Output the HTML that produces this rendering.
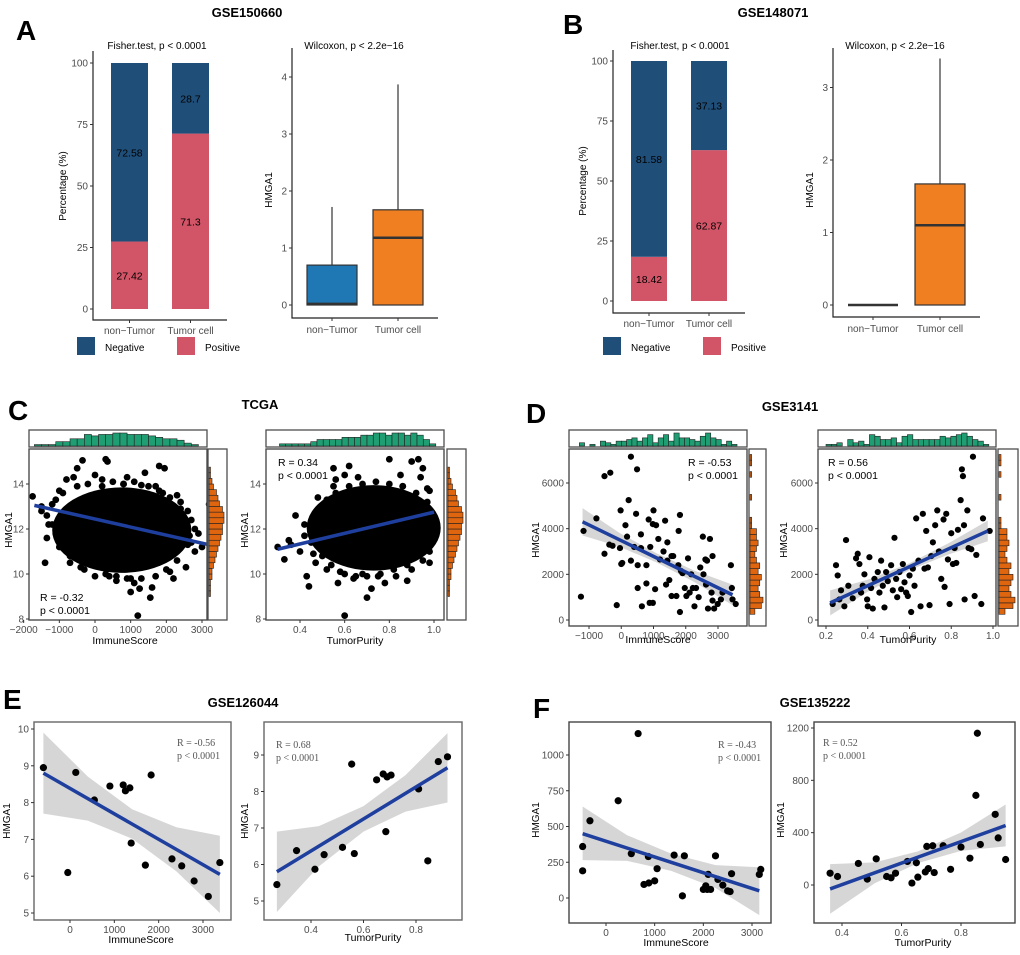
<!DOCTYPE html>
<html><head><meta charset="utf-8"><title>HMGA1 figure</title>
<style>
html,body{margin:0;padding:0;background:#fff;}
svg{display:block;font-family:"Liberation Sans",Arial,sans-serif;}
</style></head>
<body>
<svg id="fig" width="1020" height="955" viewBox="0 0 1020 955" xmlns="http://www.w3.org/2000/svg"></svg>
<script>
// ===== Panel A / B data =====
const barCats = ["non\u2212Tumor","Tumor cell"];
const aNeg = [72.58, 28.7];
const aPos = [27.42, 71.3];
const bNeg = [81.58, 37.13];
const bPos = [18.42, 62.87];
const pctTicks = [0,25,50,75,100];
// box stats [min,q1,median,q3,max]
const aBox = [[0,0,0.02,0.7,1.72],[0,0,1.18,1.67,3.87]];
const bBox = [[0,0,0,0,0],[0,0,1.1,1.67,3.4]];
const aBoxTicks = [0,1,2,3,4];
const bBoxTicks = [0,1,2,3];

// ===== Panel C (TCGA) =====
const cImmX = [-1750,-1400,-1350,-1350,-500,-350,300,350,1200,1550,1800,1950,3200,1250,1100,2550,2500,2650,2800,-800,-600,0,900,1400,-200,-700,2200,1600,400,-1100,-1500,3000,2900,-1200,-900,-300,600,1000,2100,2300,2400,-1000,200,1700,2600,-600,800,1300,1900,2700,
  -1500,-1300,-1200,-1000,-900,-700,-500,-400,-200,0,200,300,500,600,800,900,1100,1300,1500,1700,1800,2000,2100,2300,2400,2600,2700,-1100,2800,1000];
const cImmY = [13.45,10.5,11.6,12.6,14.7,15.05,15.1,15,8.15,8.95,14.8,14.7,13.1,9.35,9.6,10.3,12.3,11.7,11,14.2,14.3,14.4,14.3,14.5,10.5,10.5,9.8,9.4,9.9,13.3,13,11.2,11.8,12.2,11.3,10.2,9.9,9.8,10.1,13.5,13.2,13.7,13.9,13.9,12.8,11,14,13.95,13.6,11.4,
  12.8,12.2,13.1,11.2,13.6,10.8,13.9,10.3,14,9.9,14.2,10.0,14.1,9.7,14,9.8,14.1,9.8,13.9,9.9,13.7,10.2,13.4,10.6,12.9,11.3,12.4,11.8,12,9.2];
const cImmCore = [750, 11.95, 1950, 1.9]; // cx, cy, rx, ry (dense cloud)
const cImmLineX = [-1700, 3200];
const cImmLineY = [13.05, 11.3];
const cPurX = [0.3,0.33,0.35,0.38,0.42,0.45,0.43,0.44,0.48,0.5,0.55,0.6,0.62,0.7,0.72,0.8,0.78,0.9,0.93,0.95,0.94,0.66,0.6,0.4,0.47,0.52,0.98,0.98,0.85,0.36,0.55,0.58,0.64,0.68,0.75,0.82,0.88,0.5,0.46,0.56,0.86,0.97,
  0.45,0.48,0.5,0.52,0.54,0.56,0.6,0.62,0.65,0.68,0.7,0.74,0.76,0.8,0.83,0.86,0.9,0.92,0.95,0.97,0.99,0.99,0.98,0.42,0.57,0.88];
const cPurY = [11.2,10.65,11.5,12.6,11.7,12.2,9.9,9.45,13.4,13,14.7,8.15,14.8,8.95,9.35,15.1,9.6,15,15.1,14.7,14.3,14.3,14.4,11,10.5,10.2,10.5,13.7,14.4,11.3,13.9,10.1,9.8,10,9.9,10.2,10.4,12.9,10.9,14.2,13.9,13.8,
  11.4,12.6,10.8,13.3,10.4,13.6,10.0,13.9,9.9,14.0,9.9,14.1,10.0,14.0,9.9,13.9,10.2,13.6,10.6,13.2,11.5,12.3,11.0,12.2,9.6,9.7];
const cPurCore = [0.73, 12.05, 0.3, 1.9];
const cPurLineX = [0.3, 1.0];
const cPurLineY = [11.1, 12.75];
const cTopImm = [0,1,1,1,3,3,5,5,8,7,8,8,9,9,8,8,8,7,6,5,5,4,2,1,0,0];
const cTopImmStart = -1900, cTopImmStep = 200;
const cTopPur = [0,1,1,1,1,1,2,3,3,3,3,4,4,4,5,5,6,6,5,6,6,5,6,5,3,1];
const cTopPurStart = 0.28, cTopPurStep = 0.028;
const cSide = [0,0,0,0,1,1,1,2,2,3,4,5,6,7,8,9,9,10,10,9,7,6,5,3,2,1,1,0,0];
const cSideStart = 8, cSideStep = 0.25;

// ===== Panel D (GSE3141) =====
const dImmX = [-1250,-1170,-770,-520,-340,-520,-370,-270,-140,-40,0,30,-20,130,180,230,300,300,400,460,490,510,510,610,610,640,780,780,850,880,900,980,980,1000,1050,1080,1150,1200,1310,1360,1390,1430,1430,1490,1560,1560,1610,1710,1770,1780,1820,1820,1850,1900,1970,2020,2070,2120,2170,2220,2270,2320,2400,2450,2530,2550,2610,2630,2660,2690,2750,2800,2830,2830,2880,2990,3090,3140,3400,3430,3450,3550];
const dImmY = [1020,3900,4450,6300,6450,2900,3300,3250,650,3150,2450,2500,4800,4150,3650,5250,7150,2600,3200,4650,6600,2400,1400,3750,3150,600,2400,1600,4400,750,3200,750,4200,4800,1350,4150,3550,2650,3000,4350,1550,2600,3400,1750,2800,1050,2800,1050,2400,3900,4600,350,2150,2050,1400,1050,2700,1200,2000,1400,600,1400,1000,2300,3650,2000,2650,1550,2600,500,3550,1200,2800,850,500,700,900,1200,2400,1400,900,700];
const dImmLineX = [-1200, 3450];
const dImmLineY = [4300, 1100];
const dImmBandX = [-1200,-50,1100,2250,3450];
const dImmBandLo = [3700,3209,2518,1676,650];
const dImmBandHi = [4900,3809,2918,2176,1550];
const dPurX = [0.232,0.248,0.256,0.264,0.272,0.288,0.296,0.307,0.328,0.344,0.352,0.36,0.368,0.376,0.384,0.397,0.4,0.408,0.416,0.424,0.432,0.448,0.456,0.464,0.472,0.48,0.488,0.496,0.512,0.52,0.528,0.536,0.541,0.552,0.56,0.568,0.576,0.584,0.592,0.6,0.608,0.616,0.624,0.632,0.643,0.653,0.664,0.672,0.68,0.688,0.696,0.704,0.712,0.723,0.733,0.741,0.752,0.763,0.768,0.776,0.784,0.792,0.8,0.808,0.816,0.824,0.832,0.845,0.851,0.856,0.861,0.864,0.877,0.883,0.896,0.904,0.912,0.92,0.944,0.952,0.984];
const dPurY = [700,2400,1950,900,1300,600,3500,1500,950,2700,2900,2450,1200,1500,2000,900,600,2750,1400,500,1800,2100,1200,2600,1500,550,2100,1700,2400,1300,3600,1800,1000,2100,1350,2450,1650,1200,1050,1950,350,2250,1500,4450,2600,600,4650,2250,3900,2300,650,2800,3400,4150,4800,3000,1800,4400,1450,4650,2650,700,3800,2450,3150,2500,3950,5250,6600,6300,4150,900,4800,3150,3100,7150,1050,2850,700,4450,3900];
const dPurLineX = [0.22, 0.975];
const dPurLineY = [750, 3900];
const dPurBandX = [0.22,0.41,0.6,0.79,0.975];
const dPurBandLo = [200,1293,2186,2878,3450];
const dPurBandHi = [1300,1793,2486,3378,4350];
const dTopImm = [2,0,1,0,3,2,1,3,3,4,5,3,5,7,2,5,7,3,8,5,5,4,3,6,8,5,4,1,3,1];
const dTopImmStart = -1300, dTopImmStep = 163;
const dTopPur = [1,1,2,0,4,2,3,1,7,6,4,4,5,2,6,7,4,4,4,4,4,6,5,6,7,8,6,4,3,1];
const dTopPurStart = 0.2, dTopPurStep = 0.026;
const dSide = [0,3,7,8,6,5,6,7,5,6,4,3,4,5,4,4,1,1,0,0,0,1,0,0,0,1,0,1,1];
const dSideStart = 0, dSideStep = 250;

// ===== Panel E (GSE126044) =====
const eImmX = [-600,-50,130,550,900,1200,1250,1350,1380,1700,1830,2300,2520,2800,3120,3380];
const eImmY = [8.95,6.1,8.82,8.07,8.45,8.48,8.32,8.4,6.9,6.3,8.75,6.47,6.28,5.87,5.45,6.37];
const eImmLineX = [-600, 3380];
const eImmLineY = [8.8, 6.05];
const eImmBandX = [-600,400,1400,2400,3380];
const eImmBandLo = [7.7,7.51,7.02,6.13,5.0];
const eImmBandHi = [9.9,8.71,7.82,7.33,7.1];
const ePurX = [0.27,0.345,0.415,0.45,0.52,0.555,0.565,0.65,0.675,0.685,0.69,0.705,0.81,0.845,0.885,0.92];
const ePurY = [5.45,6.38,5.87,6.27,6.47,8.75,6.3,8.32,8.48,6.9,8.4,8.45,8.07,6.1,8.82,8.95];
const ePurLineX = [0.27, 0.92];
const ePurLineY = [5.8, 8.65];
const ePurBandX = [0.27,0.43,0.6,0.76,0.92];
const ePurBandLo = [4.7,5.95,6.9,7.45,7.7];
const ePurBandHi = [6.9,7.05,7.6,8.45,9.6];

// ===== Panel F (GSE135222) =====
const fImmX = [-480,-480,-330,250,520,660,780,870,880,1000,1050,1400,1570,1610,2000,2050,2080,2100,2150,2250,2300,2400,2500,2550,2580,3150,3180];
const fImmY = [360,190,540,680,310,1150,95,290,105,120,205,300,15,295,60,85,60,165,60,295,130,90,50,45,170,165,200];
const fImmLineX = [-480, 3150];
const fImmLineY = [450, 50];
const fImmBandX = [-480,430,1340,2250,3150];
const fImmBandLo = [265,260,190,70,-120];
const fImmBandHi = [640,440,310,230,215];
const fPurX = [0.36,0.385,0.455,0.485,0.515,0.55,0.565,0.58,0.62,0.635,0.65,0.655,0.68,0.685,0.69,0.705,0.71,0.74,0.765,0.8,0.83,0.85,0.855,0.865,0.915,0.925,0.95];
const fPurY = [90,65,165,45,200,65,55,90,180,15,170,60,100,295,125,300,95,300,120,290,205,685,1160,310,540,360,195];
const fPurLineX = [0.36, 0.95];
const fPurLineY = [-30, 455];
const fPurBandX = [0.36,0.51,0.655,0.8,0.95];
const fPurBandLo = [-220,13,167,261,295];
const fPurBandHi = [160,173,257,401,615];

// ===== helpers =====
const NS = "http://www.w3.org/2000/svg";
const fig = document.getElementById('fig');
function mk(tag, attrs, parent){
  const e = document.createElementNS(NS, tag);
  for (const k in attrs) e.setAttribute(k, attrs[k]);
  (parent || fig).appendChild(e);
  return e;
}
function lin(d0,d1,p0,p1){ return v => p0 + (v-d0)*(p1-p0)/(d1-d0); }
function text(x,y,s,size,opts){
  opts = opts || {};
  const t = mk('text',{x:x,y:y,'font-size':size,fill:opts.fill||'#000','text-anchor':opts.anchor||'start','font-weight':opts.bold?'bold':'normal','font-family':opts.serif?'"Liberation Serif",serif':'"Liberation Sans",sans-serif'});
  if (opts.rot) t.setAttribute('transform','rotate(-90 '+x+' '+y+')');
  t.textContent = s;
  return t;
}
const TICKC = '#4d4d4d';

function yTicks(ys, vals, xAxis, fmt){
  vals.forEach(v => {
    const l = mk('line',{x1:xAxis-3,x2:xAxis,y1:ys(v),y2:ys(v),stroke:'#333','stroke-width':1});
    
    
    const t = text(xAxis-5, ys(v)+3.5, fmt?fmt(v):String(v), 10, {anchor:'end', fill:TICKC});
    
    
  });
}
function xTicks(xs, vals, yAxis, fmt){
  vals.forEach(v => {
    const l = mk('line',{x1:xs(v),x2:xs(v),y1:yAxis,y2:yAxis+3,stroke:'#333','stroke-width':1});
    
    
    const t = text(xs(v), yAxis+13, (fmt?fmt(v):String(v)).replace('-','\u2212'), 10, {anchor:'middle', fill:TICKC});
    
    
  });
}

// ===== Stacked bar panels =====
function stackedBar(cfg){
  const ys = lin(0,100,cfg.y0,cfg.y100);
  const ax = mk('path',{d:`M${cfg.axX},${cfg.axTop} V${cfg.axBot} H${cfg.axRight}`,fill:'none',stroke:'#222','stroke-width':1.2});
  
  
  yTicks(ys, pctTicks, cfg.axX);
  barCats.forEach((c,i) => {
    const x = cfg.barX[i];
    const pos = cfg.pos[i], neg = cfg.neg[i];
    const rp = mk('rect',{x:x,y:ys(pos),width:cfg.barW,height:ys(0)-ys(pos),fill:'#d25467'});
    
    
    const rn = mk('rect',{x:x,y:ys(pos+neg),width:cfg.barW,height:ys(pos)-ys(pos+neg),fill:'#1f4e79'});
    
    
    const tn = text(x+cfg.barW/2, ys(pos+neg/2)+4, String(neg), 10.5, {anchor:'middle'});
    
    
    const tp = text(x+cfg.barW/2, ys(pos/2)+4, String(pos), 10.5, {anchor:'middle'});
    
    
    const tk = mk('line',{x1:x+cfg.barW/2,x2:x+cfg.barW/2,y1:cfg.axBot,y2:cfg.axBot+3,stroke:'#333'});
    
    
    const cl = text(x+cfg.barW/2, cfg.axBot+14, c, 10, {anchor:'middle',fill:TICKC});
    
    
  });
  const yl = text(cfg.axX-27, (cfg.y0+cfg.y100)/2, 'Percentage (%)', 10, {anchor:'middle', rot:true});
  
  
  const ti = text(cfg.titleX, 49, 'Fisher.test, p < 0.0001', 10, {anchor:'middle'});
  
  
  const ln = mk('rect',{x:cfg.legX[0],y:337,width:18,height:18,fill:'#1f4e79'});
  
  
  const lnt = text(cfg.legX[0]+28, 351, 'Negative', 10);
  
  
  const lp = mk('rect',{x:cfg.legX[1],y:337,width:18,height:18,fill:'#d25467'});
  
  
  const lpt = text(cfg.legX[1]+28, 351, 'Positive', 10);
  
  
}
stackedBar({y0:309,y100:63,axX:93,axTop:51,axBot:320,axRight:227,barX:[111,172],barW:37,neg:aNeg,pos:aPos,titleX:157,legX:[77,177]});
stackedBar({y0:301,y100:61,axX:613,axTop:50,axBot:313,axRight:745,barX:[631,691],barW:36,neg:bNeg,pos:bPos,titleX:680,legX:[603,703]});

// ===== Box plots =====
function boxPlot(cfg){
  const ys = lin(0,1,cfg.y0,cfg.y1);
  const ax = mk('path',{d:`M${cfg.axX},${cfg.axTop} V${cfg.axBot} H${cfg.axRight}`,fill:'none',stroke:'#222','stroke-width':1.2});
  
  
  yTicks(ys, cfg.ticks, cfg.axX);
  const cols = ['#1f77b4','#f07f22'];
  barCats.forEach((c,i) => {
    const s = cfg.stats[i]; const cx = cfg.cx[i]; const w = 50;
    if (s[4] > s[3]) {
      const wh = mk('line',{x1:cx,x2:cx,y1:ys(s[4]),y2:ys(s[3]),stroke:'#333','stroke-width':1.2});
      
      
    }
    const b = mk('rect',{x:cx-w/2,y:ys(s[3]),width:w,height:Math.max(0,ys(s[1])-ys(s[3])),fill:cols[i],stroke:'#333','stroke-width':1.2});
    
    
    const m = mk('line',{x1:cx-w/2,x2:cx+w/2,y1:ys(s[2]),y2:ys(s[2]),stroke:'#333','stroke-width':2.4});
    
    
    const tk = mk('line',{x1:cx,x2:cx,y1:cfg.axBot,y2:cfg.axBot+3,stroke:'#333'});
    
    
    const cl = text(cx, cfg.axBot+15, c, 10, {anchor:'middle',fill:TICKC});
    
    
  });
  const yl = text(cfg.axX-20, 190, 'HMGA1', 10, {anchor:'middle', rot:true});
  
  
  const ti = text(cfg.titleX, 49, 'Wilcoxon, p < 2.2e\u221216', 10, {anchor:'middle'});
  
  
}
boxPlot({y0:305,y1:248,axX:292,axTop:48,axBot:318,axRight:438,ticks:aBoxTicks,stats:aBox,cx:[332,398],titleX:354});
boxPlot({y0:305,y1:232.5,axX:833,axTop:48,axBot:317,axRight:980,ticks:bBoxTicks,stats:bBox,cx:[873,940],titleX:895});

// ===== Scatter panels =====
function scatter(cfg){
  const g = mk('g',{});
  
  
  const xs = lin(cfg.xc[0],cfg.xc[1],cfg.xc[2],cfg.xc[3]);
  const ys = lin(cfg.yc[0],cfg.yc[1],cfg.yc[2],cfg.yc[3]);
  const B = cfg.box;
  const clipId = 'clip-'+cfg.name;
  const cp = mk('clipPath',{id:clipId}, g);
  mk('rect',{x:B[0],y:B[1],width:B[2]-B[0],height:B[3]-B[1]}, cp);
  const inner = mk('g',{'clip-path':'url(#'+clipId+')'}, g);
  if (cfg.bandX) {
    let d = 'M';
    cfg.bandX.forEach((x,i)=>{ d += xs(x)+','+ys(cfg.bandHi[i])+' L'; });
    for (let i=cfg.bandX.length-1;i>=0;i--) d += xs(cfg.bandX[i])+','+ys(cfg.bandLo[i])+(i?' L':' Z');
    const band = mk('path',{d:d,fill:'#cfcfcf','fill-opacity':0.85}, inner);
    
    
  }
  if (cfg.core) {
    const c = cfg.core;
    const e = mk('ellipse',{cx:xs(c[0]),cy:ys(c[1]),rx:Math.abs(xs(c[0]+c[2])-xs(c[0])),ry:Math.abs(ys(c[1]+c[3])-ys(c[1])),fill:'#000'}, inner);
    
    
  }
  cfg.px.forEach((x,i)=>{
    const p = mk('circle',{cx:xs(x),cy:ys(cfg.py[i]),r:cfg.r||3.4,fill:cfg.ptFill||'#000'}, inner);
    
    
  });
  const ln = mk('line',{x1:xs(cfg.lx[0]),y1:ys(cfg.ly[0]),x2:xs(cfg.lx[1]),y2:ys(cfg.ly[1]),stroke:'#1f3f9e','stroke-width':cfg.lw||3.5}, inner);
  
  
  const fr = mk('rect',{x:B[0],y:B[1],width:B[2]-B[0],height:B[3]-B[1],fill:'none',stroke:cfg.frame||'#4d4d4d','stroke-width':1.4}, g);
  
  
  yTicks(ys, cfg.yt, B[0]);
  xTicks(xs, cfg.xt, B[3], cfg.xfmt);
  const st = cfg.stat;
  const s1 = text(st[0], st[1], st[2], cfg.serif?10:10.5, {serif:cfg.serif, fill:cfg.serif?'#555':'#000'});
  
  
  const s2 = text(st[0], st[1]+13, 'p < 0.0001', cfg.serif?10:10.5, {serif:cfg.serif, fill:cfg.serif?'#555':'#000'});
  
  
  const yl = text(cfg.ylab[0], cfg.ylab[1], 'HMGA1', 10, {anchor:'middle', rot:true});
  
  
  if (cfg.xlab) {
    const xl = text(cfg.xlab[0], cfg.xlab[1], cfg.xlab[2], 10.5, {anchor:'middle'});
    
    
  }
  if (cfg.top) {
    const T = cfg.topBox;
    const tf = mk('rect',{x:T[0],y:T[1],width:T[2]-T[0],height:T[3]-T[1],fill:'#fff',stroke:'#4d4d4d','stroke-width':1.3});
    
    
    const mx = Math.max(...cfg.top);
    cfg.top.forEach((c,i)=>{
      if (!c) return;
      const x0 = xs(cfg.topStart + i*cfg.topStep), x1 = xs(cfg.topStart + (i+1)*cfg.topStep);
      const h = c/mx*(T[3]-T[1]-4);
      const b = mk('rect',{x:x0,y:T[3]-1-h,width:x1-x0,height:h,fill:'#1e9e72',stroke:'#222','stroke-width':0.6});
      
      
    });
  }
  if (cfg.side) {
    const S = cfg.sideBox;
    const sf = mk('rect',{x:S[0],y:S[1],width:S[2]-S[0],height:S[3]-S[1],fill:'#fff',stroke:'#4d4d4d','stroke-width':1.3});
    
    
    const mx = Math.max(...cfg.side);
    cfg.side.forEach((c,i)=>{
      if (!c) return;
      const y0 = ys(cfg.sideStart + i*cfg.sideStep), y1 = ys(cfg.sideStart + (i+1)*cfg.sideStep);
      const w = c/mx*(S[2]-S[0]-4);
      const b = mk('rect',{x:S[0]+1,y:y1,width:w,height:y0-y1,fill:'#e0650f',stroke:'#222','stroke-width':0.6});
      
      
    });
  }
}
const f1 = v => v.toFixed(1);

// C
scatter({name:'c-immune-scatter',box:[29,449,207,620],xc:[0,3000,95,202],yc:[8,14,619,484],
  px:cImmX,py:cImmY,core:cImmCore,lx:cImmLineX,ly:cImmLineY,yt:[8,10,12,14],xt:[-2000,-1000,0,1000,2000,3000],
  stat:[40,601,'R = -0.32'],ylab:[12,530],xlab:[125,644,'ImmuneScore'],
  top:cTopImm,topStart:cTopImmStart,topStep:cTopImmStep,topBox:[29,430,207,447],
  side:cSide,sideStart:cSideStart,sideStep:cSideStep,sideBox:[208,449,227,620]});
scatter({name:'c-purity-scatter',box:[266,449,444,620],xc:[0.4,1.0,300,434],yc:[8,14,619,484],
  px:cPurX,py:cPurY,core:cPurCore,lx:cPurLineX,ly:cPurLineY,yt:[8,10,12,14],xt:[0.4,0.6,0.8,1.0],xfmt:f1,
  stat:[278,466,'R = 0.34'],ylab:[248,530],xlab:[355,644,'TumorPurity'],
  top:cTopPur,topStart:cTopPurStart,topStep:cTopPurStep,topBox:[266,430,444,447],
  side:cSide,sideStart:cSideStart,sideStep:cSideStep,sideBox:[447,449,466,620]});
// D
scatter({name:'d-immune-scatter',box:[569,449,747,626],xc:[-1000,3000,589,718],yc:[0,6000,620,483],
  px:dImmX,py:dImmY,lx:dImmLineX,ly:dImmLineY,bandX:dImmBandX,bandLo:dImmBandLo,bandHi:dImmBandHi,r:3.1,
  yt:[0,2000,4000,6000],xt:[-1000,0,1000,2000,3000],
  stat:[688,466,'R = -0.53'],ylab:[539,540],xlab:[658,643,'ImmuneScore'],
  top:dTopImm,topStart:dTopImmStart,topStep:dTopImmStep,topBox:[569,430,747,447],
  side:dSide,sideStart:dSideStart,sideStep:dSideStep,sideBox:[749,449,766,626]});
scatter({name:'d-purity-scatter',box:[818,449,996,626],xc:[0.2,1.0,826,993],yc:[0,6000,620,483],
  px:dPurX,py:dPurY,lx:dPurLineX,ly:dPurLineY,bandX:dPurBandX,bandLo:dPurBandLo,bandHi:dPurBandHi,r:3.1,
  yt:[0,2000,4000,6000],xt:[0.2,0.4,0.6,0.8,1.0],xfmt:f1,
  stat:[828,466,'R = 0.56'],ylab:[787,540],xlab:[908,643,'TumorPurity'],
  top:dTopPur,topStart:dTopPurStart,topStep:dTopPurStep,topBox:[818,430,996,447],
  side:dSide,sideStart:dSideStart,sideStep:dSideStep,sideBox:[998,449,1018,626]});
// E
scatter({name:'e-immune-scatter',box:[34,722,231,920],xc:[0,3000,70,203],yc:[5,10,913,729],
  px:eImmX,py:eImmY,lx:eImmLineX,ly:eImmLineY,bandX:eImmBandX,bandLo:eImmBandLo,bandHi:eImmBandHi,r:3.6,serif:true,frame:'#666',
  yt:[5,6,7,8,9,10],xt:[0,1000,2000,3000],stat:[177,746,'R = -0.56'],ylab:[10,821],xlab:[141,943,'ImmuneScore']});
scatter({name:'e-purity-scatter',box:[264,722,462,920],xc:[0.4,0.8,311,416],yc:[5,9,901,755],
  px:ePurX,py:ePurY,lx:ePurLineX,ly:ePurLineY,bandX:ePurBandX,bandLo:ePurBandLo,bandHi:ePurBandHi,r:3.6,serif:true,frame:'#666',
  yt:[5,6,7,8,9],xt:[0.4,0.6,0.8],xfmt:f1,stat:[276,748,'R = 0.68'],ylab:[248,821],xlab:[373,941,'TumorPurity']});
// F
scatter({name:'f-immune-scatter',box:[569,722,771,923],xc:[0,3000,606,752],yc:[0,1000,898,755],
  px:fImmX,py:fImmY,lx:fImmLineX,ly:fImmLineY,bandX:fImmBandX,bandLo:fImmBandLo,bandHi:fImmBandHi,r:3.6,serif:true,frame:'#444',
  yt:[0,250,500,750,1000],xt:[0,1000,2000,3000],stat:[718,748,'R = -0.43'],ylab:[539,820],xlab:[676,946,'ImmuneScore']});
scatter({name:'f-purity-scatter',box:[814,722,1015,923],xc:[0.4,0.8,842,961],yc:[0,1200,885,728],
  px:fPurX,py:fPurY,lx:fPurLineX,ly:fPurLineY,bandX:fPurBandX,bandLo:fPurBandLo,bandHi:fPurBandHi,r:3.6,serif:true,frame:'#444',
  yt:[0,400,800,1200],xt:[0.4,0.6,0.8],xfmt:f1,stat:[823,746,'R = 0.52'],ylab:[784,820],xlab:[923,946,'TumorPurity']});

// ===== Headers & panel letters =====
[['A',16,40],['B',563,34],['C',8,420],['D',526,423],['E',3,709],['F',533,718]].forEach(l=>{
  const t = text(l[1], l[2], l[0], 28, {bold:true});
  
  
});
[['GSE150660',247,17],['GSE148071',773,17],['TCGA',260,409],['GSE3141',790,411],['GSE126044',243,707],['GSE135222',815,707]].forEach(h=>{
  const t = text(h[1], h[2], h[0], 13, {bold:true, anchor:'middle'});
  
  
});
</script>
</body></html>
